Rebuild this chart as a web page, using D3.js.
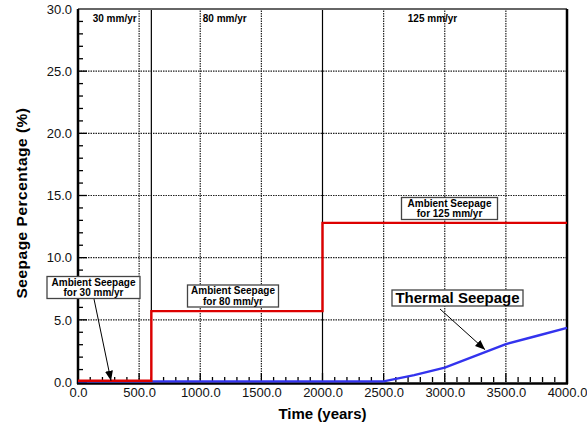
<!DOCTYPE html>
<html>
<head>
<meta charset="utf-8">
<script src="https://cdn.jsdelivr.net/npm/d3@7"></script>
<style>
  body { margin: 0; background: #fff; }
  text { font-family: "Liberation Sans", Arial, sans-serif; }
</style>
</head>
<body>
<svg id="chart" width="587" height="427"></svg>
<script>
// data
var ambientTime = [0, 600, 600, 2000, 2000, 4000];
var ambientSeepage = [0.1, 0.1, 5.7, 5.7, 12.8, 12.8];
var thermalTime = [0, 2500, 2750, 3000, 3250, 3500, 3750, 4000];
var thermalSeepage = [0.05, 0.05, 0.55, 1.15, 2.1, 3.05, 3.7, 4.35];
var xTicks = [0, 500, 1000, 1500, 2000, 2500, 3000, 3500, 4000];
var yTicks = [0, 5, 10, 15, 20, 25, 30];
var periodLabels = ["30 mm/yr", "80 mm/yr", "125 mm/yr"];
var periodLabelX = [300, 1200, 2900];
var periodBreaks = [600, 2000];

var svg = d3.select("#chart");
var margin = { left: 78, right: 20, top: 9, bottom: 45 };
var width = 587 - margin.left - margin.right;
var height = 427 - margin.top - margin.bottom;

var x = d3.scaleLinear().domain([0, 4000]).range([margin.left, margin.left + width]);
var y = d3.scaleLinear().domain([0, 30]).range([margin.top + height, margin.top]);

// dotted grid
svg.append("g").selectAll("line")
  .data(xTicks.filter(function (d) { return d > 0 && d < 4000 && d != 2000; }))
  .enter().append("line")
  .attr("x1", d => x(d)).attr("x2", d => x(d))
  .attr("y1", y(0)).attr("y2", y(30))
  .attr("stroke", "#222").attr("stroke-width", 1.2).attr("stroke-dasharray", "1.5,1");

svg.append("g").selectAll("line")
  .data(yTicks.filter(function (d) { return d > 0 && d < 30; }))
  .enter().append("line")
  .attr("x1", x(0)).attr("x2", x(4000))
  .attr("y1", d => y(d)).attr("y2", d => y(d))
  .attr("stroke", "#222").attr("stroke-width", 1.2).attr("stroke-dasharray", "1.5,1");

// solid lines at the infiltration changes
svg.append("g").selectAll("line")
  .data(periodBreaks)
  .enter().append("line")
  .attr("x1", d => x(d)).attr("x2", d => x(d))
  .attr("y1", y(0)).attr("y2", y(30))
  .attr("stroke", "#000").attr("stroke-width", 1.2);

// axes
var xAxis = d3.axisBottom(x).tickValues(xTicks).tickFormat(d3.format(".1f")).tickSize(0).tickPadding(5.5);
var yAxis = d3.axisLeft(y).tickValues(yTicks).tickFormat(d3.format(".1f")).tickSize(0).tickPadding(6);

var gx = svg.append("g").attr("transform", "translate(0," + y(0) + ")").call(xAxis);
var gy = svg.append("g").attr("transform", "translate(" + x(0) + ",0)").call(yAxis);
[gx, gy].forEach(function (g) {
  g.select(".domain").remove();
  g.selectAll("text").attr("font-size", 13).attr("fill", "#111")
    .style("font-family", "'Liberation Sans', Arial, sans-serif");
});

// inside ticks
var xMinor = d3.range(0, 4001, 100);
svg.append("g").selectAll("line").data(xMinor).enter().append("line")
  .attr("x1", d => x(d)).attr("x2", d => x(d))
  .attr("y1", y(0)).attr("y2", d => y(0) - (d % 500 == 0 ? 9 : 5))
  .attr("stroke", "#000").attr("stroke-width", 1.3);
var yMinor = d3.range(0, 31, 1);
svg.append("g").selectAll("line").data(yMinor).enter().append("line")
  .attr("y1", d => y(d)).attr("y2", d => y(d))
  .attr("x1", x(0)).attr("x2", d => x(0) + (d % 5 == 0 ? 9 : 5))
  .attr("stroke", "#000").attr("stroke-width", 1.3);

// frame
svg.append("line").attr("x1", x(0)).attr("x2", x(4000)).attr("y1", y(30)).attr("y2", y(30))
  .attr("stroke", "#666").attr("stroke-width", 2);
svg.append("line").attr("x1", x(0) - 1).attr("x2", x(4000) + 1).attr("y1", y(0) + 1.5).attr("y2", y(0) + 1.5)
  .attr("stroke", "#000").attr("stroke-width", 2.5);
svg.append("line").attr("x1", x(0)).attr("x2", x(0)).attr("y1", y(0) + 2).attr("y2", y(30))
  .attr("stroke", "#000").attr("stroke-width", 2.5);
svg.append("line").attr("x1", x(4000)).attr("x2", x(4000)).attr("y1", y(0) + 2).attr("y2", y(30))
  .attr("stroke", "#000").attr("stroke-width", 2.5);

// series
var line = d3.line().x(d => x(d[0])).y(d => y(d[1]));
svg.append("path")
  .datum(d3.zip(thermalTime, thermalSeepage))
  .attr("d", line).attr("fill", "none")
  .attr("stroke", "#3333ee").attr("stroke-width", 2.4);
svg.append("path")
  .datum(d3.zip(ambientTime, ambientSeepage))
  .attr("d", line).attr("fill", "none")
  .attr("stroke", "#dd0000").attr("stroke-width", 2.4);

// period labels
svg.append("g").selectAll("text").data(periodLabels).enter().append("text")
  .attr("x", (d, i) => x(periodLabelX[i])).attr("y", y(30) + 13)
  .attr("text-anchor", "middle").attr("font-size", 10).attr("font-weight", "bold")
  .text(d => d);

// axis titles
svg.append("text").attr("x", x(2000)).attr("y", 419)
  .attr("text-anchor", "middle").attr("font-size", 15).attr("font-weight", "bold")
  .text("Time (years)");
svg.append("text")
  .attr("transform", "translate(27,203) rotate(-90)")
  .attr("text-anchor", "middle").attr("font-size", 15.5).attr("font-weight", "bold")
  .attr("letter-spacing", 0.5)
  .text("Seepage Percentage  (%)");

// annotations
svg.append("defs").append("marker")
  .attr("id", "arrow").attr("viewBox", "0 0 10 10").attr("refX", 10).attr("refY", 5)
  .attr("markerWidth", 10).attr("markerHeight", 10).attr("markerUnits", "userSpaceOnUse")
  .attr("orient", "auto")
  .append("path").attr("d", "M0,1 L10,5 L0,9 Z").attr("fill", "#000");

function note(lines, cx, top, w, h, size, lead) {
  var g = svg.append("g");
  g.append("rect").attr("x", cx - w / 2).attr("y", top).attr("width", w).attr("height", h)
    .attr("fill", "#fff").attr("stroke", "#444").attr("stroke-width", 1.3);
  lines.forEach(function (t, i) {
    g.append("text").attr("x", cx).attr("y", top + size * 0.8 + 1 + i * lead)
      .attr("text-anchor", "middle").attr("font-size", size).attr("font-weight", "bold")
      .text(t);
  });
}
function arrow(x1, y1, x2, y2) {
  svg.append("line").attr("x1", x1).attr("y1", y1).attr("x2", x2).attr("y2", y2)
    .attr("stroke", "#000").attr("stroke-width", 1).attr("marker-end", "url(#arrow)");
}

arrow(94, 299, x(270), y(0.1));
note(["Ambient Seepage", "for 30 mm/yr"], 93.5, 276.5, 93, 22, 10, 10.5);
note(["Ambient Seepage", "for 80 mm/yr"], 233, 285, 91, 22, 10, 10.5);
note(["Ambient Seepage", "for 125 mm/yr"], 449.5, 197.5, 96, 22, 10, 10.5);
arrow(440, 309, x(3330), y(2.6));
note(["Thermal Seepage"], 457.5, 290, 131, 16, 15, 0);
</script>
</body>
</html>
